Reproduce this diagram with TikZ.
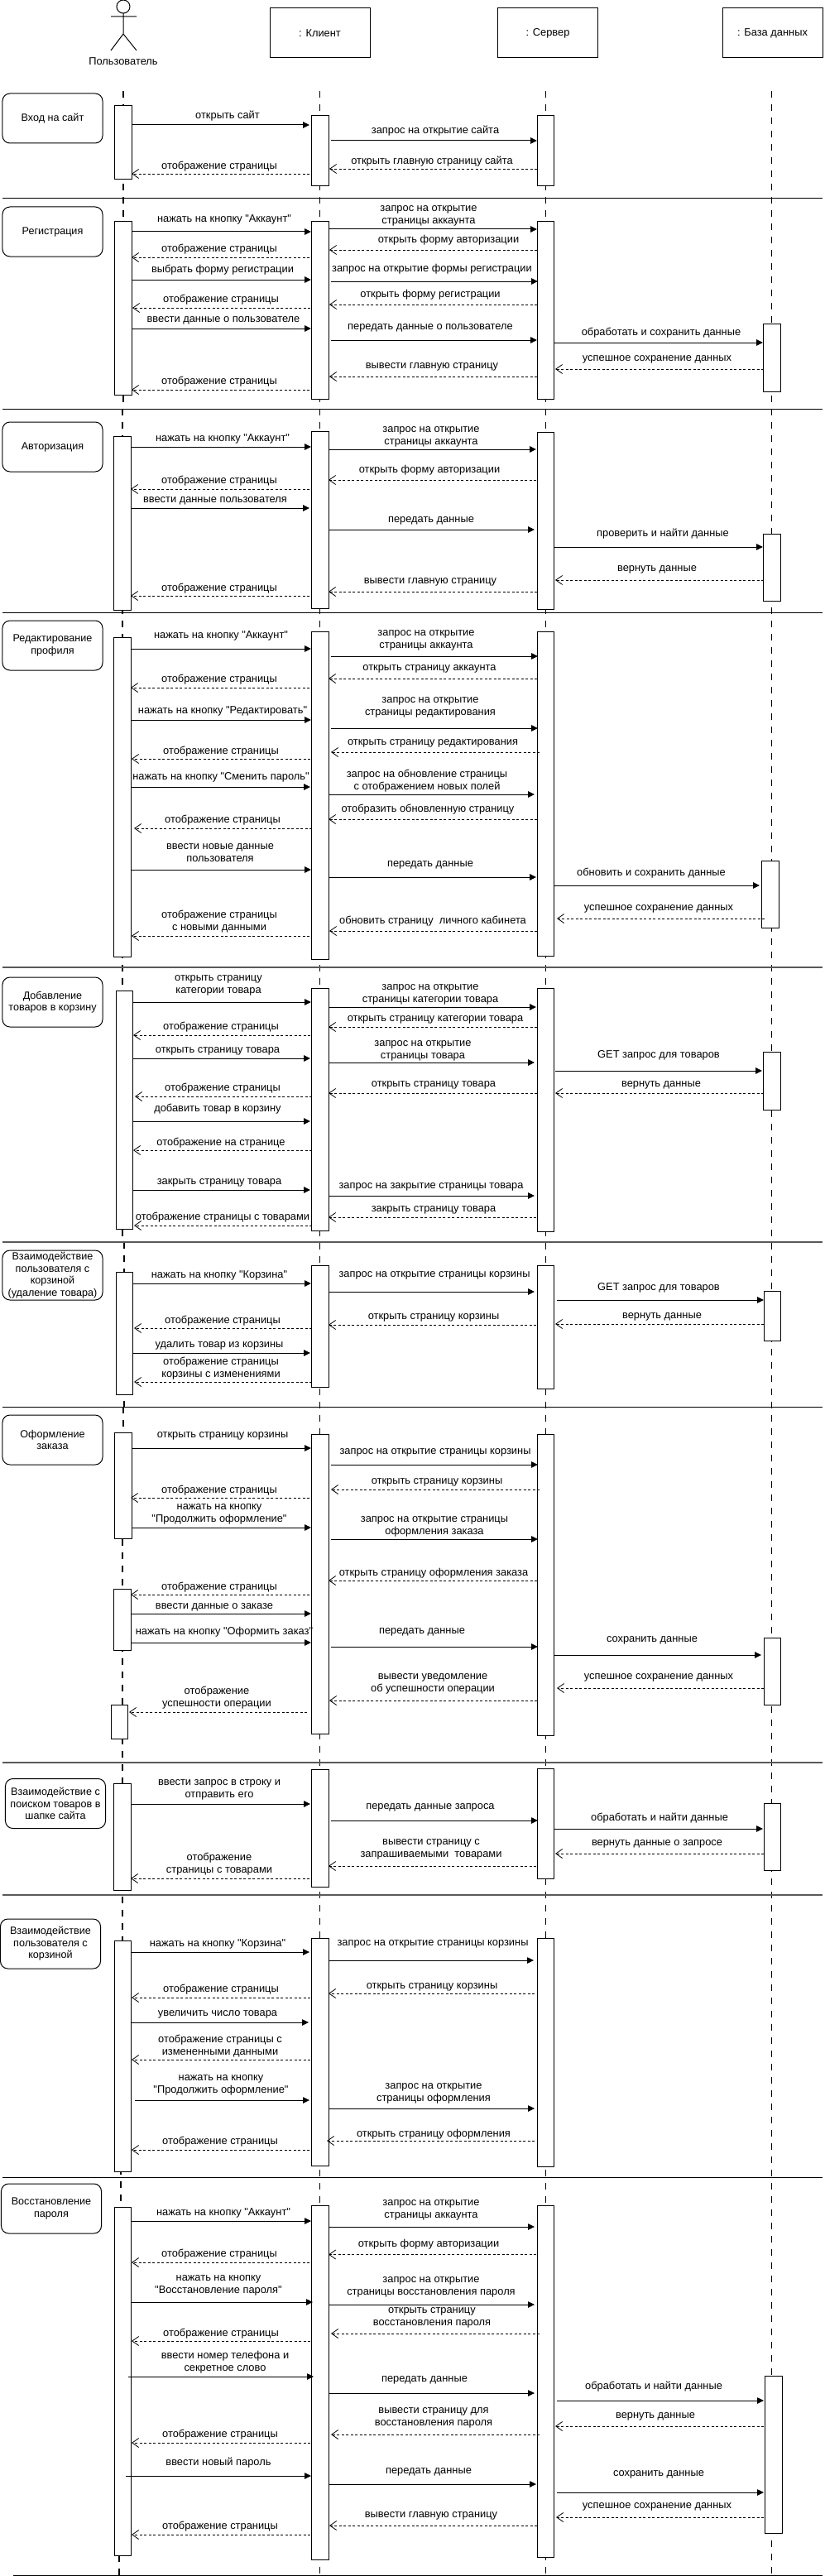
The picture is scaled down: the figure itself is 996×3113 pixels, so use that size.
\documentclass[tikz,border=0pt]{standalone}
\usepackage{fontspec}
\setmainfont{Liberation Sans}[Ligatures=TeXOff]
\usetikzlibrary{arrows.meta}
\newcounter{mm}
\newcounter{aa}
\tikzset{
  lab/.style={font=\fontsize{12.85bp}{15bp}\selectfont,align=center,inner sep=0pt,text=black},
  sidebox/.style={draw=black,line width=1bp,rounded corners=9bp,fill=white,inner sep=0pt,outer sep=0pt,minimum width=121bp,minimum height=60bp,font=\fontsize{12.6bp}{14.5bp}\selectfont,align=center},
  objbox/.style={draw=black,line width=1bp,fill=white,inner sep=0pt,outer sep=0pt,minimum width=121bp,minimum height=60bp,font=\fontsize{12.85bp}{15bp}\selectfont},
  actbox/.style={draw=black,line width=1bp,fill=white,inner sep=0pt,outer sep=0pt,minimum width=20.5bp},
  callline/.style={draw=black,line width=1bp,-{Triangle[length=8bp,width=7.5bp]}},
  retline/.style={draw=black,line width=0.8bp,dash pattern=on 3bp off 2.5bp,-{Straight Barb[length=8bp,width=11bp,line width=0.8bp]}},
  lifeline/.style={draw=black,line width=1.1bp,dash pattern=on 8bp off 8bp},
  divider/.style={draw=black,line width=1bp},
  grayline/.style={draw=black!65,line width=1.5bp}
}
\newcommand\Act[3]{\stepcounter{aa}\pgfmathsetmacro\ActH{#3-#2}\pgfmathsetmacro\ActC{(#2+#3)/2}%
  \node[actbox,minimum height=\ActH bp] (act\theaa) at (#1,\ActC) {};}
\newcommand\Call[6]{\stepcounter{mm}\coordinate (s\themm) at (#1,#3);\coordinate (e\themm) at (#2,#3);%
  \draw[callline] (s\themm) -- (e\themm);\node[lab] (t\themm) at (#4,#5) {#6};}
\newcommand\Ret[6]{\stepcounter{mm}\coordinate (s\themm) at (#1,#3);\coordinate (e\themm) at (#2,#3);%
  \draw[retline] (s\themm) -- (e\themm);\node[lab] (t\themm) at (#4,#5) {#6};}
\newcommand\Life[3]{\stepcounter{mm}\coordinate (s\themm) at (#1,#2);\coordinate (e\themm) at (#1,#3);\draw[lifeline] (s\themm) -- (e\themm);}
\newcommand\Div[4][divider]{\stepcounter{mm}\coordinate (s\themm) at (#2,#4);\coordinate (e\themm) at (#3,#4);\draw[#1] (s\themm) -- (e\themm);}
\begin{document}
\begin{tikzpicture}[x=1bp,y=-1bp]
\useasboundingbox[fill=white] (0,0) rectangle (996,3113);
% actor
\draw[line width=1bp,fill=white] (149,8) ellipse (8 and 8);
\coordinate (neck) at (149,16);\coordinate (hip) at (149,41);
\coordinate (armL) at (134,20);\coordinate (armR) at (165,20);
\coordinate (legL) at (134,61);\coordinate (legR) at (165,61);
\draw[line width=1bp] (neck) -- (hip) (armL) -- (armR) (legL) -- (hip) -- (legR);
\node[lab] (actorlabel) at (149,74) {Пользователь};
\node[objbox] (client) at (386.5,40) {: Клиент};
\node[objbox] (server) at (662,40) {: Сервер};
\node[objbox] (db) at (933.5,40) {: База данных};
% lifelines
\Life{149}{110}{494}
\Life{148}{494}{1501}
\Life{150}{1501}{1700}
\Life{149}{1700}{1860}
\Life{148}{1860}{2620}
\Life{146}{2620}{2668}
\Life{144}{3088}{3113}
\Life{386.5}{110}{3113}
\Life{659.5}{110}{3113}
\Life{932.5}{110}{3113}
% dividers
\Div{3}{994}{240}
\Div{3}{994}{494}
\Div{3}{994}{740}
\Div[grayline]{3}{994}{1169}
\Div[grayline]{3}{994}{1501}
\Div{3}{994}{1700}
\Div[grayline]{3}{994}{2130}
\Div[grayline]{3}{994}{2290}
\Div{3}{994}{2631}
\Div{16}{994}{3112}
% side boxes
\node[sidebox] (b1) at (63.5,143) {Вход на сайт};
\node[sidebox] (b2) at (63.5,280) {Регистрация};
\node[sidebox] (b3) at (63.5,540) {Авторизация};
\node[sidebox] (b4) at (63.5,780) {Редактирование\\профиля};
\node[sidebox] (b5) at (63.5,1211) {Добавление\\товаров в корзину};
\node[sidebox] (b6) at (63.5,1541) {Взаимодействие\\пользователя с\\корзиной\\(удаление товара)};
\node[sidebox] (b7) at (63.5,1740) {Оформление\\заказа};
\node[sidebox] (b8) at (67,2179.5) {Взаимодействие с\\поиском товаров в\\шапке сайта};
\node[sidebox] (b9) at (61,2349) {Взаимодействие\\пользователя с\\корзиной};
\node[sidebox] (b10) at (62,2669) {Восстановление\\пароля};
% activations: section 1
\Act{149}{128}{217}\Act{387}{140}{225}\Act{659.5}{140}{225}
% 2
\Act{149}{268}{477}\Act{387}{268}{482}\Act{659.5}{268}{482}\Act{933}{391}{473}
% 3
\Act{148}{527}{737}\Act{387}{521}{735}\Act{659.5}{522}{736}\Act{933}{645}{726}
% 4
\Act{148}{770}{1156}\Act{387}{763}{1159}\Act{659.5}{763}{1155}\Act{931}{1040}{1121}
% 5
\Act{150.5}{1197}{1485}\Act{387}{1194}{1487}\Act{659.5}{1194}{1488}\Act{933}{1271}{1341}
% 6
\Act{150.5}{1537}{1685}\Act{387}{1529}{1676}\Act{659.5}{1529}{1678}\Act{933.5}{1560}{1620}
% 7
\Act{149}{1731}{1859}\Act{148}{1920}{1994}\Act{144.5}{2060}{2101}\Act{387}{1733}{2095}\Act{659.5}{1733}{2097}\Act{933.5}{1979}{2060}
% 8
\Act{148}{2155}{2284}\Act{387}{2138}{2280}\Act{659.5}{2137}{2270}\Act{933.5}{2179}{2260}
% 9
\Act{148.5}{2345}{2624}\Act{387}{2342}{2617}\Act{659.5}{2342}{2618}
% 10
\Act{148.5}{2667}{3088}\Act{387}{2665}{3093}\Act{659.5}{2665}{3090}\Act{935}{2871}{3061}
% messages 1
\Call{159}{374}{151}{275}{140}{открыть сайт}
\Call{400}{649}{170}{526}{158}{запрос на открытие сайта}
\Ret{649}{398}{204}{522}{195}{открыть главную страницу сайта}
\Ret{374}{159}{210}{265}{201}{отображение страницы}
% 2
\Call{159}{376}{280}{271}{265}{нажать на кнопку "Аккаунт"}
\Call{398}{649}{277}{518}{261}{запрос на открытие\\страницы аккаунта}
\Ret{649}{398}{302}{542}{290}{открыть форму авторизации}
\Ret{374}{159}{311}{265}{301}{отображение страницы}
\Call{159}{376}{338}{269}{326}{выбрать форму регистрации}
\Call{400}{650}{340}{522}{325}{запрос на открытие формы регистрации}
\Ret{649}{398}{368}{520}{356}{открыть форму регистрации}
\Ret{375}{160}{372}{267}{362}{отображение страницы}
\Call{159}{376}{397}{270}{387}{ввести данные о пользователе}
\Call{400}{649}{411}{520}{396}{передать данные о пользователе}
\Call{670}{922}{414}{799}{402}{обработать и сохранить данные}
\Ret{923}{671}{446}{794}{434}{успешное сохранение данных}
\Ret{649}{398}{455}{522}{443}{вывести главную страницу}
\Ret{374}{159}{471}{265}{461}{отображение страницы}
% 3
\Call{158}{376}{540}{269}{530}{нажать на кнопку "Аккаунт"}
\Call{397}{648}{543}{521}{528}{запрос на открытие\\страницы аккаунта}
\Ret{648}{397}{580}{519}{568}{открыть форму авторизации}
\Ret{374}{158}{591}{265}{581}{отображение страницы}
\Call{158}{374}{614}{260}{605}{ввести данные пользователя}
\Call{397}{646}{640}{521}{629}{передать данные}
\Call{670}{922}{661}{801}{645}{проверить и найти данные}
\Ret{923}{671}{701}{794}{688}{вернуть данные}
\Ret{649}{397}{715}{520}{703}{вывести главную страницу}
\Ret{374}{158}{720}{265}{711}{отображение страницы}
% 4
\Call{158}{376}{784}{267}{768}{нажать на кнопку "Аккаунт"}
\Call{400}{650}{793}{515}{774}{запрос на открытие\\страницы аккаунта}
\Ret{649}{397}{820}{519}{808}{открыть страницу аккаунта}
\Ret{374}{158}{831}{265}{821}{отображение страницы}
\Call{158}{376}{870}{269}{859}{нажать на кнопку "Редактировать"}
\Call{400}{650}{880}{520}{855}{запрос на открытие\\страницы редактирования}
\Ret{652}{400}{909}{523}{898}{открыть страницу редактирования}
\Ret{375}{159}{917}{267}{908}{отображение страницы}
\Call{158}{375}{951}{267}{939}{нажать на кнопку "Сменить пароль"}
\Call{397}{646}{960}{516}{944}{запрос на обновление страницы\\с отображением новых полей}
\Ret{649}{397}{990}{517}{978}{отобразить обновленную страницу}
\Ret{377}{162}{1001}{269}{991}{отображение страницы}
\Call{158}{376}{1051}{266}{1031}{ввести новые данные\\пользователя}
\Call{398}{648}{1060}{520}{1045}{передать данные}
\Call{669}{918}{1070}{787}{1055}{обновить и сохранить данные}
\Ret{924}{673}{1110}{796}{1098}{успешное сохранение данных}
\Ret{649}{398}{1125}{523}{1113}{обновить страницу~ личного кабинета}
\Ret{374}{159}{1131}{265}{1114}{отображение страницы\\с новыми данными}
% 5
\Call{161}{376}{1211}{264}{1191}{открыть страницу\\категории товара}
\Call{397}{648}{1217}{520}{1202}{запрос на открытие\\страницы категории товара}
\Ret{649}{397}{1241}{526}{1232}{открыть страницу категории товара}
\Ret{375}{161}{1251}{267}{1241}{отображение страницы}
\Call{161}{375}{1279}{263}{1270}{открыть страницу товара}
\Call{397}{646}{1284}{511}{1270}{запрос на открытие\\страницы товара}
\Call{671}{921}{1294}{796}{1275}{GET запрос для товаров}
\Ret{923}{671}{1321}{799}{1311}{вернуть данные}
\Ret{649}{397}{1321}{524}{1311}{открыть страницу товара}
\Ret{377}{163}{1325}{269}{1315}{отображение страницы}
\Call{161}{375}{1355}{263}{1340}{добавить товар в корзину}
\Ret{377}{161}{1390}{267}{1381}{отображение на странице}
\Call{161}{375}{1438}{265}{1429}{закрыть страницу товара}
\Call{397}{646}{1445}{521}{1434}{запрос на закрытие страницы товара}
\Ret{648}{397}{1471}{524}{1462}{закрыть страницу товара}
\Ret{377}{162}{1481}{269}{1471}{отображение страницы с товарами}
% 6
\Call{161}{376}{1551}{265}{1541}{нажать на кнопку "Корзина"}
\Call{397}{646}{1561}{525}{1541}{запрос на открытие страницы корзины}
\Call{673}{923}{1571}{796}{1556}{GET запрос для товаров}
\Ret{923}{671}{1600}{800}{1591}{вернуть данные}
\Ret{648}{397}{1601}{524}{1592}{открыть страницу корзины}
\Ret{377}{162}{1605}{269}{1596}{отображение страницы}
\Call{161}{375}{1635}{265}{1626}{удалить товар из корзины}
\Ret{377}{162}{1670}{267}{1654}{отображение страницы\\корзины с изменениями}
% 7
\Call{159}{376}{1750}{269}{1735}{открыть страницу корзины}
\Call{400}{650}{1770}{526}{1755}{запрос на открытие страницы корзины}
\Ret{652}{400}{1800}{528}{1791}{открыть страницу корзины}
\Ret{374}{158}{1810}{265}{1801}{отображение страницы}
\Call{159}{376}{1846}{265}{1830}{нажать на кнопку\\"Продолжить оформление"}
\Call{400}{650}{1860}{525}{1845}{запрос на открытие страницы\\оформления заказа}
\Ret{649}{397}{1910}{524}{1901}{открыть страницу оформления заказа}
\Ret{374}{158}{1927}{265}{1918}{отображение страницы}
\Call{158}{376}{1950}{259}{1942}{ввести данные о заказе}
\Call{158}{376}{1985}{271}{1972}{нажать на кнопку "Оформить заказ"}
\Call{400}{650}{1990}{510}{1972}{передать данные}
\Call{669}{920}{2000}{788}{1982}{сохранить данные}
\Ret{923}{673}{2040}{796}{2027}{успешное сохранение данных}
\Ret{649}{398}{2055}{523}{2035}{вывести уведомление\\об успешности операции}
\Ret{371}{156}{2069}{262}{2052}{отображение\\успешности операции}
% 8
\Call{158}{375}{2180}{265}{2163}{ввести запрос в строку и\\отправить его}
\Call{400}{650}{2200}{520}{2184}{передать данные запроса}
\Call{670}{922}{2210}{797}{2197}{обработать и найти данные}
\Ret{923}{671}{2240}{794}{2228}{вернуть данные о запросе}
\Ret{648}{397}{2255}{521}{2235}{вывести страницу с\\запрашиваемыми~ товарами}
\Ret{374}{158}{2270}{265}{2253}{отображение\\страницы с товарами}
% 9
\Call{159}{374}{2359}{263}{2349}{нажать на кнопку "Корзина"}
\Call{397}{645}{2369}{523}{2349}{запрос на открытие страницы корзины}
\Ret{646}{397}{2409}{522}{2401}{открыть страницу корзины}
\Ret{375}{159}{2414}{267}{2404}{отображение страницы}
\Call{159}{373}{2444}{263}{2434}{увеличить число товара}
\Ret{375}{159}{2489}{266}{2472.5}{отображение страницы с\\измененными данными}
\Call{163}{374}{2538}{267}{2520}{нажать на кнопку\\"Продолжить оформление"}
\Call{397}{646}{2548}{524}{2530}{запрос на открытие\\страницы оформления}
\Ret{646}{395}{2587}{524}{2579}{открыть страницу оформления}
\Ret{374}{159}{2598}{266}{2588}{отображение страницы}
% 10
\Call{159}{376}{2684}{270}{2674}{нажать на кнопку "Аккаунт"}
\Call{397}{646}{2691}{521}{2671}{запрос на открытие\\страницы аккаунта}
\Ret{648}{397}{2724.5}{518}{2712}{открыть форму авторизации}
\Ret{374}{159}{2734}{265}{2724.5}{отображение страницы}
\Call{159}{378}{2782}{264}{2762}{нажать на кнопку\\"Восстановление пароля"}
\Call{397}{646}{2785}{521}{2764}{запрос на открытие\\страницы восстановления пароля}
\Ret{652}{400}{2820}{522}{2801}{открыть страницу\\восстановления пароля}
\Ret{375}{159}{2829}{267}{2820}{отображение страницы}
\Call{155}{379}{2872}{272}{2855}{ввести номер телефона и\\секретное слово}
\Call{397}{646}{2892}{513}{2876}{передать данные}
\Call{673}{923}{2901}{790}{2884}{обработать и найти данные}
\Ret{923}{671}{2932}{792}{2920}{вернуть данные}
\Ret{652}{400}{2942}{524}{2922}{вывести страницу для\\восстановления пароля}
\Ret{375}{159}{2952}{266}{2942.5}{отображение страницы}
\Call{152}{376}{2992}{264}{2976.5}{ввести новый пароль}
\Call{398}{648}{3002}{518}{2987}{передать данные}
\Call{673}{923}{3012}{796}{2990.5}{сохранить данные}
\Ret{923}{672}{3042}{794}{3029.5}{успешное сохранение данных}
\Ret{649}{398}{3052}{521}{3040}{вывести главную страницу}
\Ret{375}{159}{3063}{266}{3053}{отображение страницы}
\end{tikzpicture}
\end{document}
